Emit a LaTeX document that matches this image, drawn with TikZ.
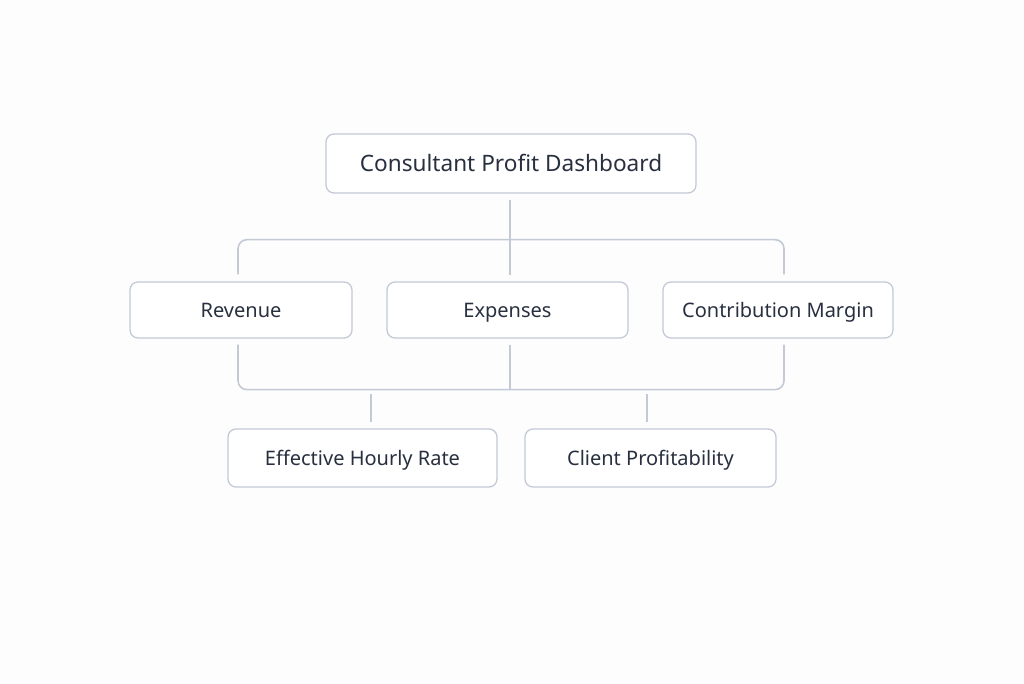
\documentclass[tikz,border=0pt]{standalone}
\usepackage{fontspec}
\setmainfont{Noto Sans}
\usetikzlibrary{calc}
\definecolor{boxline}{HTML}{C3CAD6}
\definecolor{txt}{HTML}{283040}
\definecolor{bg}{HTML}{FDFDFE}
\begin{document}
\begin{tikzpicture}[x=1pt,y=-1pt,
  box/.style={draw=boxline,line width=1.3pt,rounded corners=8pt,fill=white,
    text=txt,inner sep=0pt,text height=14.3pt,text depth=0pt,
    font=\fontsize{20}{24}\selectfont},
  link/.style={draw=boxline,line width=1.6pt,rounded corners=9pt}]
\fill[bg] (0,0) rectangle (1024,683);
\useasboundingbox (0,0) rectangle (1024,683);
\node[box,minimum width=370pt,minimum height=59pt,text height=16.2pt,font=\fontsize{22.6}{27}\selectfont] (top) at (511,163.5) {Consultant Profit Dashboard};
\node[box,minimum width=222pt,minimum height=56pt] (rev) at (241,310) {Revenue};
\node[box,minimum width=241pt,minimum height=56pt] (exp) at (507.5,310) {Expenses};
\node[box,minimum width=230pt,minimum height=56pt] (cm) at (778,310) {Contribution Margin};
\node[box,minimum width=269pt,minimum height=58pt] (ehr) at (362.5,458) {Effective Hourly Rate};
\node[box,minimum width=251pt,minimum height=58pt] (cp) at (650.5,458) {Client Profitability};
% top fan-out
\coordinate (t1) at ($(top.south)+(-1,6)$);
\coordinate (t2) at ($(exp.north)+(2.5,-6)$);
\draw[link] (t1) -- (t2);
\coordinate (r1) at ($(rev.north)+(-3,-7)$);
\coordinate (c1) at ($(cm.north)+(6,-7)$);
\draw[link] (r1) |- ($(t1)+(0,40)$) -| (c1);
% bottom merge
\coordinate (r2) at ($(rev.south)+(-3,6)$);
\coordinate (c2) at ($(cm.south)+(6,6)$);
\coordinate (e2) at ($(exp.south)+(2.5,6)$);
\draw[link] (r2) |- ($(e2)+(0,45)$) -| (c2);
\draw[link] (e2) -- ($(e2)+(0,45)$);
% lower stubs
\coordinate (h1) at ($(ehr.north)+(8.5,-6)$);
\coordinate (p1) at ($(cp.north)+(-3.5,-6)$);
\draw[link] (h1) -- ++(0,-28);
\draw[link] (p1) -- ++(0,-28);
\end{tikzpicture}
\end{document}
